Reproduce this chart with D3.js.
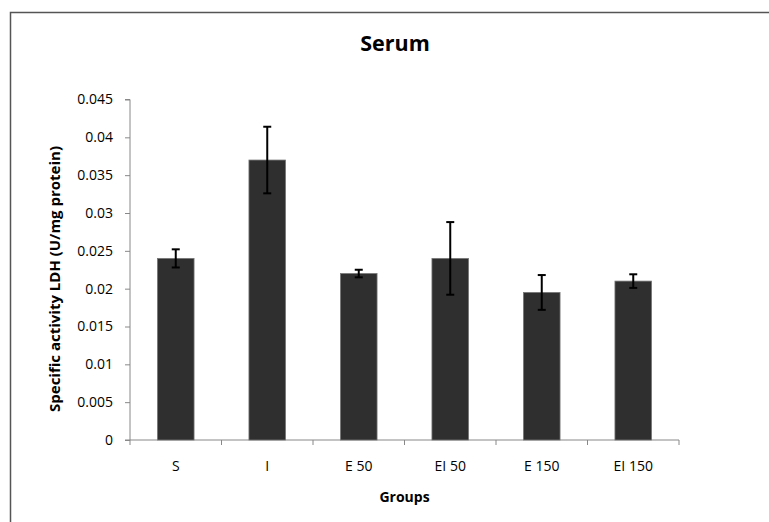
<!DOCTYPE html>
<html lang="en">

<head>
  <meta charset="UTF-8" />
  <title>Serum LDH</title>
  <script src="https://d3js.org/d3.v7.min.js"></script>
  <style>
    body {
      margin: 0;
      background: #fff;
      font-family: "Open Sans", sans-serif;
    }

    .axis {
      font-family: "Open Sans", sans-serif;
    }

    .tick text {
      fill: #000;
      font-size: 14px;
    }

    .axis path,
    .axis line {
      stroke: #888;
    }
  </style>
</head>

<body>
  <svg width="769" height="522"></svg>

  <script>
    const groups = ["S", "I", "E 50", "EI 50", "E 150", "EI 150"];
    const activity = [0.024, 0.037, 0.022, 0.024, 0.0195, 0.021];
    const errors = [0.0012, 0.0044, 0.0005, 0.0048, 0.0023, 0.0009];
    const yTicks = [0, 0.005, 0.01, 0.015, 0.02, 0.025, 0.03, 0.035, 0.04, 0.045];

    const svg = d3.select("svg");

    // chart frame (cut off at right and bottom, as in the source)
    svg.append("rect")
      .attr("x", 10.5).attr("y", 12.5)
      .attr("width", 800).attr("height", 600)
      .attr("fill", "none")
      .attr("stroke", "#555")
      .attr("stroke-width", 1.5);

    const plot = { left: 130, right: 679, top: 99.5, bottom: 440 };

    const x = d3.scaleBand()
      .domain(groups)
      .range([plot.left, plot.right])
      .paddingInner(0.6)
      .paddingOuter(0.3);

    const y = d3.scaleLinear()
      .domain([0, 0.045])
      .range([plot.bottom, plot.top]);

    // y axis
    const yAxis = svg.append("g")
      .attr("class", "axis")
      .attr("transform", `translate(${plot.left},0)`)
      .call(d3.axisLeft(y).tickValues(yTicks).tickSize(5).tickPadding(12)
        .tickFormat(d => d === 0 ? "0" : String(+d.toFixed(3))));
    yAxis.attr("font-family", null).attr("font-size", null);
    yAxis.select(".domain").attr("d", `M-5,${plot.top}H0V${plot.bottom}H-5`);

    // x axis with ticks between categories
    const xAxis = svg.append("g")
      .attr("class", "axis")
      .attr("transform", `translate(0,${plot.bottom})`)
      .call(d3.axisBottom(x).tickSize(0).tickPadding(21));
    xAxis.attr("font-family", null).attr("font-size", null);
    xAxis.select(".domain").attr("d", `M${plot.left},0H${plot.right}`);
    xAxis.selectAll(".sep")
      .data(d3.range(groups.length + 1))
      .join("line")
      .attr("class", "sep")
      .attr("x1", i => plot.left + i * (plot.right - plot.left) / groups.length)
      .attr("x2", i => plot.left + i * (plot.right - plot.left) / groups.length)
      .attr("y1", 0).attr("y2", 5)
      .attr("stroke", "#888");

    // bars
    svg.append("g")
      .selectAll("rect")
      .data(groups)
      .join("rect")
      .attr("x", d => x(d))
      .attr("width", x.bandwidth())
      .attr("y", (d, i) => y(activity[i]))
      .attr("height", (d, i) => y(0) - y(activity[i]))
      .attr("fill", "#2f2f2f")
      .attr("stroke", "#777")
      .attr("stroke-width", 0.8);

    // error bars
    const err = svg.append("g")
      .attr("stroke", "#000")
      .attr("stroke-width", 2)
      .selectAll("g")
      .data(groups)
      .join("g")
      .attr("transform", d => `translate(${x(d) + x.bandwidth() / 2},0)`);

    err.append("line")
      .attr("y1", (d, i) => y(activity[i] + errors[i]))
      .attr("y2", (d, i) => y(activity[i] - errors[i]));
    err.append("line")
      .attr("x1", -4).attr("x2", 4)
      .attr("y1", (d, i) => y(activity[i] + errors[i]))
      .attr("y2", (d, i) => y(activity[i] + errors[i]));
    err.append("line")
      .attr("x1", -4).attr("x2", 4)
      .attr("y1", (d, i) => y(activity[i] - errors[i]))
      .attr("y2", (d, i) => y(activity[i] - errors[i]));

    // titles
    svg.append("text")
      .attr("x", 395).attr("y", 51)
      .attr("text-anchor", "middle")
      .attr("font-size", 21.5)
      .attr("font-weight", "bold")
      .text("Serum");

    svg.append("text")
      .attr("x", (plot.left + plot.right) / 2).attr("y", 502)
      .attr("text-anchor", "middle")
      .attr("font-size", 14)
      .attr("font-weight", "bold")
      .text("Groups");

    svg.append("text")
      .attr("transform", `translate(60,279) rotate(-90)`)
      .attr("text-anchor", "middle")
      .attr("font-size", 15)
      .attr("font-weight", "bold")
      .text("Specific activity LDH (U/mg protein)");
  </script>

</body>

</html>
